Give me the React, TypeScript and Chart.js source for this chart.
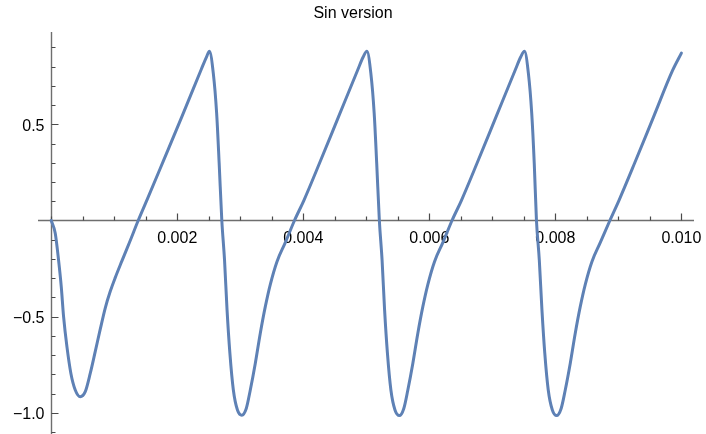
import React, { useEffect, useRef } from "react";
import { Chart, registerables } from "chart.js";

Chart.register(...registerables);

const TITLE = "Sin version";

// x values (seconds) and y values
const xValues = [
  0, 0.0000635, 0.000116, 0.000159, 0.000196, 0.000249, 0.000312, 0.000381, 0.00046, 0.00054,
  0.000619, 0.000698, 0.000778, 0.000857, 0.000937, 0.001016, 0.001122, 0.001254, 0.001380,
  0.001530, 0.001780, 0.002080, 0.002380, 0.002470, 0.002510,
  0.002572, 0.002625, 0.002665, 0.002707, 0.002750, 0.002790, 0.002835, 0.002890, 0.002955,
  0.003025, 0.003095, 0.003159, 0.003238, 0.003317, 0.003397, 0.003476, 0.003582, 0.003714,
  0.003860, 0.004010, 0.004260, 0.004560, 0.004860, 0.004950, 0.005010,
  0.005072, 0.005125, 0.005165, 0.005207, 0.005250, 0.005290, 0.005335, 0.005390, 0.005455,
  0.005525, 0.005595, 0.005659, 0.005738, 0.005817, 0.005897, 0.005976, 0.006082, 0.006214,
  0.006360, 0.006510, 0.006760, 0.007060, 0.007360, 0.007450, 0.007510,
  0.007572, 0.007625, 0.007665, 0.007700, 0.007745, 0.007787, 0.007832, 0.007887, 0.007952,
  0.008020, 0.008092, 0.008157, 0.008236, 0.008315, 0.008395, 0.008474, 0.008580, 0.008712,
  0.008865, 0.009010, 0.009260, 0.009560, 0.009860, 0.010000,
];

const yValues = [
  0, -0.066, -0.205, -0.344, -0.5, -0.656, -0.795, -0.881, -0.916, -0.89,
  -0.795, -0.682, -0.565, -0.455, -0.368, -0.297, -0.21, -0.104, 0,
  0.115, 0.31, 0.545, 0.785, 0.855, 0.88,
  0.765, 0.557, 0.297, 0, -0.205, -0.465, -0.69, -0.881, -0.985,
  -1.012, -0.977, -0.881, -0.743, -0.587, -0.448, -0.333, -0.214, -0.115,
  0, 0.105, 0.3, 0.54, 0.78, 0.85, 0.88,
  0.765, 0.557, 0.297, 0, -0.205, -0.465, -0.69, -0.881, -0.985,
  -1.014, -0.977, -0.881, -0.743, -0.587, -0.448, -0.333, -0.214, -0.115,
  0, 0.105, 0.3, 0.54, 0.78, 0.85, 0.88,
  0.765, 0.557, 0.297, 0, -0.205, -0.465, -0.69, -0.881, -0.985,
  -1.014, -0.977, -0.881, -0.743, -0.587, -0.448, -0.333, -0.214, -0.115,
  0, 0.105, 0.3, 0.54, 0.78, 0.87,
];

const xMajorTicks = [0.002, 0.004, 0.006, 0.008, 0.01];
const xMajorLabels = ["0.002", "0.004", "0.006", "0.008", "0.010"];
const yMajorTicks = [0.5, -0.5, -1.0];
const yMajorLabels = ["0.5", "\u22120.5", "\u22121.0"];
const xMinorStep = 0.0005;
const yMinorStep = 0.1;

const X_MIN = -0.00021;
const X_MAX = 0.0102;
const Y_MIN = -1.11;
const Y_MAX = 0.98;

const FONT = "16px 'Liberation Sans', Arial, sans-serif";

const axesPlugin = {
  id: "mmaAxes",
  beforeDatasetsDraw(chart: any) {
    const { ctx } = chart;
    const xs = chart.scales.x;
    const ys = chart.scales.y;
    const x0 = xs.getPixelForValue(0);
    const y0 = ys.getPixelForValue(0);
    const ax = Math.round(x0) + 0.5;
    const ay = Math.round(y0) + 0.5;
    ctx.save();
    // axis lines
    ctx.strokeStyle = "#6e6e6e";
    ctx.lineWidth = 1.4;
    ctx.beginPath();
    ctx.moveTo(xs.left, ay);
    ctx.lineTo(xs.right, ay);
    ctx.moveTo(ax, ys.top);
    ctx.lineTo(ax, ys.bottom);
    ctx.stroke();

    // ticks
    ctx.strokeStyle = "#4a4a4a";
    ctx.lineWidth = 1.2;
    ctx.beginPath();
    const xCount = Math.floor(X_MAX / xMinorStep + 1e-6);
    for (let i = 0; i <= xCount; i++) {
      const v = i * xMinorStep;
      const px = Math.round(xs.getPixelForValue(v)) + 0.5;
      const isMajor = xMajorTicks.some((t) => Math.abs(t - v) < 1e-7);
      const len = isMajor ? 7 : 4;
      ctx.moveTo(px, ay);
      ctx.lineTo(px, ay - len);
    }
    const yStart = Math.ceil(Y_MIN / yMinorStep);
    const yEnd = Math.floor(Y_MAX / yMinorStep);
    for (let i = yStart; i <= yEnd; i++) {
      const v = i * yMinorStep;
      if (i === 0) continue;
      const py = Math.round(ys.getPixelForValue(v)) + 0.5;
      const isMajor = yMajorTicks.some((t) => Math.abs(t - v) < 1e-7);
      const len = isMajor ? 7 : 4;
      ctx.moveTo(ax, py);
      ctx.lineTo(ax + len, py);
    }
    ctx.stroke();

    // labels
    ctx.fillStyle = "#000";
    ctx.font = FONT;
    ctx.textAlign = "center";
    ctx.textBaseline = "alphabetic";
    xMajorTicks.forEach((t, i) => {
      const px = xs.getPixelForValue(t);
      ctx.fillText(xMajorLabels[i], px, ay + 22);
    });
    ctx.textAlign = "right";
    yMajorTicks.forEach((t, i) => {
      const py = ys.getPixelForValue(t);
      ctx.fillText(yMajorLabels[i], ax - 7, py + 6.5);
    });

    // title
    ctx.textAlign = "center";
    ctx.fillText(TITLE, chart.width / 2, 18);
    ctx.restore();
  },
};

export default function App() {
  const canvasRef = useRef<HTMLCanvasElement | null>(null);

  useEffect(() => {
    const canvas = canvasRef.current;
    if (!canvas) return;
    const points = xValues.map((x, i) => ({ x, y: yValues[i] }));
    const chart = new Chart(canvas, {
      type: "line",
      data: {
        datasets: [
          {
            data: points,
            borderColor: "#5E81B5",
            borderWidth: 3,
            pointRadius: 0,
            fill: false,
            cubicInterpolationMode: "monotone",
            borderJoinStyle: "round",
            borderCapStyle: "round",
            clip: false as any,
          },
        ],
      },
      options: {
        animation: false,
        responsive: false,
        devicePixelRatio: 1,
        layout: { padding: { left: 38, right: 12, top: 32, bottom: 0 } },
        plugins: {
          legend: { display: false },
          title: { display: false },
          tooltip: { enabled: false },
        },
        scales: {
          x: { type: "linear", min: X_MIN, max: X_MAX, display: false },
          y: { type: "linear", min: Y_MIN, max: Y_MAX, display: false },
        },
      },
      plugins: [axesPlugin],
    });
    return () => chart.destroy();
  }, []);

  return (
    <div style={{ position: "fixed", left: 0, top: 0, width: 706, height: 434, background: "#fff" }}>
      <canvas ref={canvasRef} width={706} height={434} style={{ width: 706, height: 434 }} />
    </div>
  );
}
